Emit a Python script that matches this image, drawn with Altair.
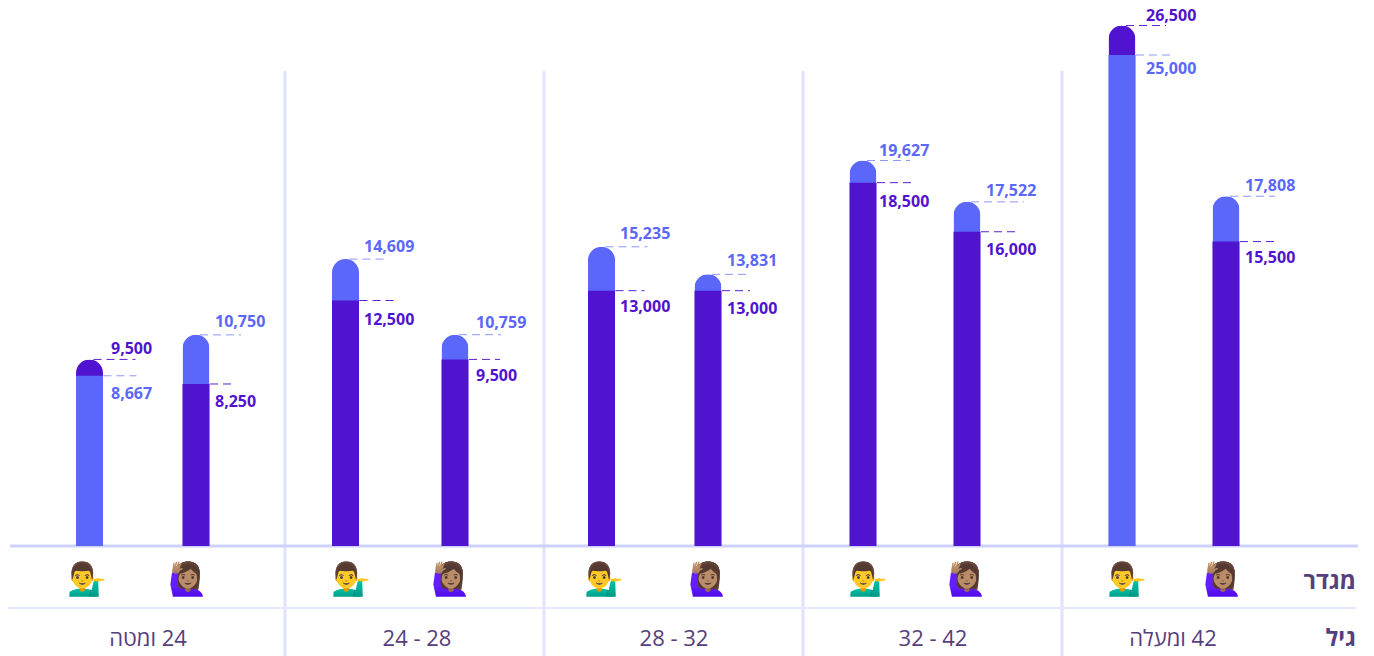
import altair as alt
import pandas as pd

# ---- values ----
ages = ["\u200f24 ומטה", "24 - 28", "28 - 32", "32 - 42", "\u200f42 ומעלה"]
man_dark = [9500, 12500, 13000, 18500, 26500]
man_light = [8667, 14609, 15235, 19627, 25000]
woman_dark = [8250, 9500, 13000, 16000, 15500]
woman_light = [10750, 10759, 13831, 17522, 17808]
row_titles = ["מגדר", "גיל"]
icons = ["💁‍♂️", "🙋🏽‍♀️"]

# ---- layout ----
W, H = 1358, 648
BASE = 538
PX_PER_UNIT = 0.01964
DARK, LIGHT = "#5013cf", "#5a67f8"
DASH_DARK, DASH_LIGHT = "#5a20d0", "#8f96fa"
TXT = "#54407c"
FONT = "Open Sans"
man_c = [81.5, 337.5, 593.5, 855, 1114]
wom_c = [188, 447, 700, 959, 1218]
man_lab = [103, 356, 612, 871, 1138]
wom_lab = [207, 468, 719, 978, 1237]
man_ico = [79.5, 343.5, 596.5, 860.5, 1119.5]
wom_ico = [180.5, 443, 700, 959, 1215]
age_c = [140, 409, 666, 925, 1165]
seps = [277, 536, 795, 1054]
# per-label vertical nudge and dashed-line length, dark then light
man_dy = ([-10, 19, 16, 19, -10], [18, -12, -13, -10, 14])
wom_dy = ([18, 17, 18, 18, 16], [-13, -12, -13, -11, -10])
man_end = ([46, 48, 43, 48, 44], [47, 43, 46, 47, 50])
wom_end = ([40, 45, 42, 51, 50], [45, 46, 39, 57, 49])

rows = []
for i in range(5):
    for dk, lt, c, lab, dy, end in ((man_dark[i], man_light[i], man_c[i], man_lab[i], man_dy, man_end),
                                    (woman_dark[i], woman_light[i], wom_c[i], wom_lab[i], wom_dy, wom_end)):
        for s, series, v, other in ((0, "dark", dk, lt), (1, "light", lt, dk)):
            top = v >= other
            rows.append(dict(c=c, lab=lab, series=series, v=v, top=top, text=f"{v:,}",
                             dy=dy[s][i], r0=c + (4 if top else 14), r1=c + end[s][i]))
df = pd.DataFrame(rows)

x_s = alt.Scale(domain=[0, W], range=[0, W], nice=False, zero=False, padding=0)
y_s = alt.Scale(domain=[0, BASE / PX_PER_UNIT], range=[BASE, 0], nice=False)
X = alt.X("c:Q", scale=x_s, axis=None)
Y = alt.Y("v:Q", scale=y_s, axis=None)
col = alt.Color("series:N", scale=alt.Scale(domain=["dark", "light"], range=[DARK, LIGHT]), legend=None)
dash_col = alt.condition("datum.series=='dark'", alt.value(DASH_DARK), alt.value(DASH_LIGHT))
BAR_W = 27

back = alt.Chart(df[df.top]).mark_bar(orient="vertical", width=BAR_W, cornerRadiusTopLeft=13.5, cornerRadiusTopRight=13.5).encode(x=X, y=Y, color=col)
front = alt.Chart(df[~df.top]).mark_bar(orient="vertical", width=BAR_W).encode(x=X, y=Y, color=col)

rules = alt.Chart(df).mark_rule(strokeDash=[8, 5], strokeWidth=1).encode(
    x=alt.X("r0:Q", scale=x_s, axis=None), x2="r1:Q", y=Y, color=dash_col)

lab_x = alt.X("lab:Q", scale=x_s, axis=None)
lab_kw = dict(font=FONT, fontSize=16, fontWeight=700, align="left", baseline="middle")
labels = [
    alt.Chart(df[df.dy == d]).mark_text(dy=int(d), **lab_kw).encode(x=lab_x, y=Y, text="text:N", color=col)
    for d in sorted(df.dy.unique())
]

sep_df = pd.DataFrame({"c": seps})
sep = alt.Chart(sep_df).mark_rule(color="#e0e2ff", strokeWidth=3).encode(
    x=X, y=alt.value(63), y2=alt.value(H))
base = alt.Chart(pd.DataFrame({"v": [0]})).mark_rule(color="#ced1fb", strokeWidth=3).encode(
    x=alt.value(2), x2=alt.value(W - 8), y=Y)
row2 = alt.Chart(pd.DataFrame({"v": [0]})).mark_rule(color="#e6e8fd", strokeWidth=2).encode(
    x=alt.value(0), x2=alt.value(W - 10), y=alt.value(600))

ico_df = pd.DataFrame({"c": man_ico + wom_ico, "t": [icons[0]] * 5 + [icons[1]] * 5})
ico = alt.Chart(ico_df).mark_text(fontSize=32, baseline="middle", font="Noto Color Emoji").encode(
    x=X, y=alt.value(572), text="t:N")

age_df = pd.DataFrame({"c": age_c, "t": ages})
age = alt.Chart(age_df).mark_text(font=FONT, fontSize=22, color=TXT, baseline="middle").encode(
    x=X, y=alt.value(631), text="t:N")
tit_df = pd.DataFrame({"c": [W - 10, W - 10], "t": row_titles})
title_kw = dict(font=FONT, fontSize=23.5, fontWeight=700, color=TXT, align="right", baseline="middle")
tit1 = alt.Chart(tit_df.iloc[[0]]).mark_text(**title_kw).encode(x=X, y=alt.value(574), text="t:N")
tit2 = alt.Chart(tit_df.iloc[[1]]).mark_text(**title_kw).encode(x=X, y=alt.value(631), text="t:N")

chart = alt.layer(sep, base, row2, back, front, rules, *labels, ico, age, tit1, tit2).properties(
    width=W, height=H, padding=0, autosize=alt.AutoSizeParams(type="none")
).configure_view(stroke=None).configure_axis(grid=False)
chart.save("out.html", embed_options={"renderer": "svg", "actions": False})
